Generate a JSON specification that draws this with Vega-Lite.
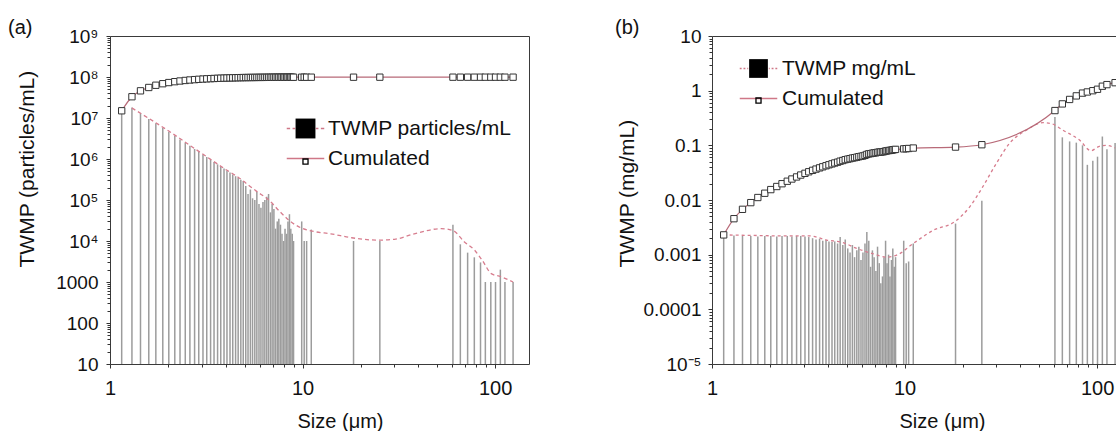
{
  "$schema": "https://vega.github.io/schema/vega-lite/v6.json",
  "padding": {"left": 7, "top": 17, "right": 0, "bottom": 0},
  "bounds": "flush",
  "spacing": 183,
  "config": {
    "font": "Liberation Sans",
    "view": {"stroke": "#3a3a3a", "strokeWidth": 1},
    "axis": {"grid": false, "domain": false, "tickColor": "#333", "labelColor": "#111", "titleColor": "#111", "labelFont": "Liberation Sans", "titleFont": "Liberation Sans", "titleFontWeight": "normal", "labelFlush": false, "labelOverlap": false}
  },
  "datasets": {
    "bins": [
      {"size": 1.15, "n": 1.5e7, "cn": 1.5e7, "m": 0.0023, "cm": 0.0023},
      {"size": 1.3, "n": 1.8e7, "cn": 3.3e7, "m": 0.00225, "cm": 0.00455},
      {"size": 1.44, "n": 1.3e7, "cn": 4.6e7, "m": 0.0022, "cm": 0.00675},
      {"size": 1.59, "n": 9.5e6, "cn": 5.55e7, "m": 0.0022, "cm": 0.00895},
      {"size": 1.73, "n": 7.4e6, "cn": 6.29e7, "m": 0.00215, "cm": 0.0111},
      {"size": 1.88, "n": 5.7e6, "cn": 6.86e7, "m": 0.0022, "cm": 0.0133},
      {"size": 2.02, "n": 4.6e6, "cn": 7.32e7, "m": 0.0022, "cm": 0.0155},
      {"size": 2.17, "n": 3.7e6, "cn": 7.69e7, "m": 0.00215, "cm": 0.01765},
      {"size": 2.31, "n": 3.0e6, "cn": 7.99e7, "m": 0.0022, "cm": 0.01985},
      {"size": 2.46, "n": 2.5e6, "cn": 8.24e7, "m": 0.0022, "cm": 0.02205},
      {"size": 2.6, "n": 2.1e6, "cn": 8.45e7, "m": 0.00215, "cm": 0.0242},
      {"size": 2.75, "n": 1.75e6, "cn": 8.63e7, "m": 0.0022, "cm": 0.0264},
      {"size": 2.89, "n": 1.5e6, "cn": 8.78e7, "m": 0.0022, "cm": 0.0286},
      {"size": 3.04, "n": 1.28e6, "cn": 8.91e7, "m": 0.00215, "cm": 0.03075},
      {"size": 3.18, "n": 1.12e6, "cn": 9.02e7, "m": 0.0021, "cm": 0.03285},
      {"size": 3.33, "n": 9.6e5, "cn": 9.12e7, "m": 0.002, "cm": 0.03485},
      {"size": 3.47, "n": 8.5e5, "cn": 9.2e7, "m": 0.0019, "cm": 0.03675},
      {"size": 3.62, "n": 7.4e5, "cn": 9.28e7, "m": 0.00195, "cm": 0.0387},
      {"size": 3.76, "n": 6.6e5, "cn": 9.34e7, "m": 0.0018, "cm": 0.0405},
      {"size": 3.91, "n": 5.9e5, "cn": 9.4e7, "m": 0.00185, "cm": 0.04235},
      {"size": 4.05, "n": 5.2e5, "cn": 9.45e7, "m": 0.00175, "cm": 0.0441},
      {"size": 4.2, "n": 4.7e5, "cn": 9.5e7, "m": 0.0017, "cm": 0.0458},
      {"size": 4.34, "n": 4.2e5, "cn": 9.54e7, "m": 0.00175, "cm": 0.04755},
      {"size": 4.49, "n": 3.8e5, "cn": 9.58e7, "m": 0.0016, "cm": 0.04915},
      {"size": 4.63, "n": 3.5e5, "cn": 9.62e7, "m": 0.0021, "cm": 0.05125},
      {"size": 4.78, "n": 3.1e5, "cn": 9.65e7, "m": 0.0015, "cm": 0.05275},
      {"size": 4.92, "n": 2.9e5, "cn": 9.68e7, "m": 0.0019, "cm": 0.05465},
      {"size": 5.07, "n": 2.2e5, "cn": 9.7e7, "m": 0.0013, "cm": 0.05595},
      {"size": 5.21, "n": 1.4e5, "cn": 9.71e7, "m": 0.0011, "cm": 0.05705},
      {"size": 5.36, "n": 1.8e5, "cn": 9.73e7, "m": 0.0015, "cm": 0.05855},
      {"size": 5.5, "n": 1.1e5, "cn": 9.74e7, "m": 0.0009, "cm": 0.05945},
      {"size": 5.65, "n": 1.0e5, "cn": 9.75e7, "m": 0.0012, "cm": 0.06065},
      {"size": 5.79, "n": 1.6e5, "cn": 9.77e7, "m": 0.0014, "cm": 0.06205},
      {"size": 5.94, "n": 8.0e4, "cn": 9.78e7, "m": 0.0008, "cm": 0.06285},
      {"size": 6.08, "n": 6.5e4, "cn": 9.78e7, "m": 0.0011, "cm": 0.06395},
      {"size": 6.23, "n": 9.0e4, "cn": 9.79e7, "m": 0.0016, "cm": 0.06555},
      {"size": 6.37, "n": 1.0e5, "cn": 9.8e7, "m": 0.0026, "cm": 0.06815},
      {"size": 6.52, "n": 1.2e5, "cn": 9.81e7, "m": 0.0018, "cm": 0.06995},
      {"size": 6.66, "n": 1.4e5, "cn": 9.83e7, "m": 0.0006, "cm": 0.07055},
      {"size": 6.81, "n": 5.0e4, "cn": 9.83e7, "m": 0.0012, "cm": 0.07175},
      {"size": 6.95, "n": 8.0e4, "cn": 9.84e7, "m": 0.0009, "cm": 0.07265},
      {"size": 7.1, "n": 6.0e4, "cn": 9.85e7, "m": 0.0005, "cm": 0.07315},
      {"size": 7.24, "n": 2.0e4, "cn": 9.85e7, "m": 0.0014, "cm": 0.07455},
      {"size": 7.39, "n": 3.0e4, "cn": 9.85e7, "m": 0.0007, "cm": 0.07525},
      {"size": 7.53, "n": 3.5e4, "cn": 9.86e7, "m": 0.0003, "cm": 0.07555},
      {"size": 7.68, "n": 2.5e4, "cn": 9.86e7, "m": 0.0004, "cm": 0.07595},
      {"size": 7.82, "n": 1.5e4, "cn": 9.86e7, "m": 0.0009, "cm": 0.07685},
      {"size": 7.97, "n": 1.0e4, "cn": 9.86e7, "m": 0.0018, "cm": 0.07865},
      {"size": 8.11, "n": 2.0e4, "cn": 9.86e7, "m": 0.0007, "cm": 0.07935},
      {"size": 8.26, "n": 1.5e4, "cn": 9.87e7, "m": 0.001, "cm": 0.08035},
      {"size": 8.4, "n": 3.0e4, "cn": 9.87e7, "m": 0.0004, "cm": 0.08075},
      {"size": 8.55, "n": 4.5e4, "cn": 9.87e7, "m": 0.0008, "cm": 0.08155},
      {"size": 8.69, "n": 2.0e4, "cn": 9.88e7, "m": 0.0013, "cm": 0.08285},
      {"size": 8.84, "n": 1.5e4, "cn": 9.88e7, "m": 0.0006, "cm": 0.08345},
      {"size": 8.98, "n": 1.0e4, "cn": 9.88e7, "m": 0.0009, "cm": 0.08435},
      {"size": 9.9, "n": 3.0e4, "cn": 9.88e7, "m": 0.0018, "cm": 0.08615},
      {"size": 10.2, "n": 1.0e4, "cn": 9.89e7, "m": 0.0007, "cm": 0.08685},
      {"size": 10.5, "n": 1.0e4, "cn": 9.89e7, "m": 0.00075, "cm": 0.0876},
      {"size": 11.1, "n": 1.9e4, "cn": 9.89e7, "m": 0.0016, "cm": 0.0892},
      {"size": 18.4, "n": 1.0e4, "cn": 9.89e7, "m": 0.0037, "cm": 0.0929},
      {"size": 25.2, "n": 1.0e4, "cn": 9.9e7, "m": 0.0097, "cm": 0.1026},
      {"size": 60.4, "n": 2.5e4, "cn": 9.9e7, "m": 0.33, "cm": 0.4326},
      {"size": 66, "n": 8300, "cn": 9.9e7, "m": 0.14, "cm": 0.5726},
      {"size": 72, "n": 5200, "cn": 9.9e7, "m": 0.118, "cm": 0.6906},
      {"size": 78, "n": 4000, "cn": 9.9e7, "m": 0.112, "cm": 0.8026},
      {"size": 84, "n": 3000, "cn": 9.9e7, "m": 0.1, "cm": 0.9026},
      {"size": 89, "n": 1000, "cn": 9.9e7, "m": 0.044, "cm": 0.9466},
      {"size": 95, "n": 1000, "cn": 9.9e7, "m": 0.052, "cm": 0.9986},
      {"size": 100.5, "n": 1000, "cn": 9.9e7, "m": 0.062, "cm": 1.0606},
      {"size": 106.5, "n": 2000, "cn": 9.9e7, "m": 0.145, "cm": 1.2056},
      {"size": 112.5, "n": 1000, "cn": 9.9e7, "m": 0.085, "cm": 1.2906},
      {"size": 124, "n": 1000, "cn": 9.9e7, "m": 0.11, "cm": 1.4006}
    ],
    "curveA": [
      {"size": 1.3, "v": 1.75e7}, {"size": 1.59, "v": 9.8e6}, {"size": 2.02, "v": 4.8e6},
      {"size": 2.6, "v": 2.15e6}, {"size": 3.33, "v": 9.8e5}, {"size": 4.05, "v": 5.3e5},
      {"size": 4.63, "v": 3.6e5}, {"size": 5.07, "v": 2.6e5}, {"size": 5.8, "v": 1.6e5},
      {"size": 6.68, "v": 1.0e5}, {"size": 7.6, "v": 5.3e4}, {"size": 8.5, "v": 3.2e4},
      {"size": 9.8, "v": 2.1e4}, {"size": 11.5, "v": 1.7e4}, {"size": 14, "v": 1.5e4},
      {"size": 18, "v": 1.2e4}, {"size": 24.6, "v": 1.05e4}, {"size": 30, "v": 1.1e4},
      {"size": 38, "v": 1.5e4}, {"size": 52.5, "v": 2.0e4}, {"size": 60.4, "v": 1.8e4},
      {"size": 69.3, "v": 9500}, {"size": 78.2, "v": 6000}, {"size": 86.4, "v": 3200},
      {"size": 95.5, "v": 1600}, {"size": 107, "v": 1350}, {"size": 124, "v": 1000}
    ],
    "curveB": [
      {"size": 1.15, "v": 0.0023}, {"size": 1.6, "v": 0.00225}, {"size": 2.5, "v": 0.0022},
      {"size": 3.23, "v": 0.0022}, {"size": 3.94, "v": 0.00185}, {"size": 4.8, "v": 0.00166},
      {"size": 5.64, "v": 0.0013}, {"size": 6.74, "v": 0.00106}, {"size": 8.07, "v": 0.0009},
      {"size": 9.1, "v": 0.00098}, {"size": 11.1, "v": 0.0016}, {"size": 14.1, "v": 0.0028},
      {"size": 18.2, "v": 0.004}, {"size": 21.8, "v": 0.0075}, {"size": 25.5, "v": 0.0175},
      {"size": 30, "v": 0.047}, {"size": 35.2, "v": 0.11}, {"size": 42.9, "v": 0.19},
      {"size": 52.3, "v": 0.26}, {"size": 57.8, "v": 0.25}, {"size": 66.3, "v": 0.19},
      {"size": 81, "v": 0.125}, {"size": 93, "v": 0.08}, {"size": 102, "v": 0.095},
      {"size": 111, "v": 0.1}, {"size": 124, "v": 0.09}
    ]
  },
  "resolve": {"scale": {"shape": "independent"}, "legend": {"shape": "independent"}},
  "hconcat": [
    {
      "width": 419,
      "height": 328,
      "title": {"text": "(a)", "anchor": "start", "frame": "group", "dx": -102, "offset": -27, "baseline": "alphabetic", "fontSize": 20, "fontWeight": "normal", "font": "Liberation Sans", "color": "#111"},
      "resolve": {"axis": {"x": "independent", "y": "independent"}, "scale": {"shape": "independent"}},
      "layer": [
        {
          "data": {"name": "bins"},
          "mark": {"type": "rule", "color": "#9c9c9c", "strokeWidth": 1.5},
          "encoding": {
            "x": {"field": "size", "type": "quantitative", "scale": {"type": "log", "domain": [1, 150]},
              "axis": {"orient": "bottom", "values": [1, 10, 100], "format": "d", "title": "Size (μm)", "titleFontSize": 20, "titleX": 230, "titleY": 63, "titleAlign": "center", "titleBaseline": "alphabetic", "labelFontSize": 20, "labelPadding": 10, "tickSize": 4}},
            "y": {"field": "n", "type": "quantitative", "scale": {"type": "log", "domain": [10, 1000000000]},
              "axis": {"orient": "left", "values": [10, 100, 1000, 10000, 100000, 1000000, 10000000, 100000000, 1000000000], "labelExpr": "datum.value >= 10000 ? '10' + ['⁴','⁵','⁶','⁷','⁸','⁹'][round(log(datum.value)/LN10) - 4] : format(datum.value, 'd')", "title": "TWMP (particles/mL)", "titleFontSize": 21, "titleX": -77, "titleY": 231, "titleAlign": "left", "titleBaseline": "alphabetic", "titleAngle": -90, "labelFontSize": 19, "labelPadding": 8, "tickSize": 4}},
            "y2": {"datum": 10}
          }
        },
        {
          "data": {"name": "curveA"},
          "mark": {"type": "line", "color": "#d77d8e", "strokeWidth": 1.3, "strokeDash": [4, 3], "interpolate": "monotone"},
          "encoding": {
            "x": {"field": "size", "type": "quantitative", "scale": {"type": "log", "domain": [1, 150]}, "axis": null},
            "y": {"field": "v", "type": "quantitative", "scale": {"type": "log", "domain": [10, 1000000000]}, "axis": null}
          }
        },
        {
          "data": {"name": "bins"},
          "mark": {"type": "line", "color": "#b86a78", "strokeWidth": 1.2, "interpolate": "monotone"},
          "encoding": {
            "x": {"field": "size", "type": "quantitative", "scale": {"type": "log", "domain": [1, 150]},
              "axis": {"orient": "bottom", "values": [2, 3, 4, 5, 6, 7, 8, 9, 20, 30, 40, 50, 60, 70, 80, 90], "labels": false, "title": null, "tickSize": 3}},
            "y": {"field": "cn", "type": "quantitative", "scale": {"type": "log", "domain": [10, 1000000000]},
              "axis": {"orient": "left", "values": [20, 30, 40, 50, 60, 70, 80, 90, 200, 300, 400, 500, 600, 700, 800, 900, 2000, 3000, 4000, 5000, 6000, 7000, 8000, 9000, 20000, 30000, 40000, 50000, 60000, 70000, 80000, 90000, 200000, 300000, 400000, 500000, 600000, 700000, 800000, 900000, 2000000, 3000000, 4000000, 5000000, 6000000, 7000000, 8000000, 9000000, 20000000, 30000000, 40000000, 50000000, 60000000, 70000000, 80000000, 90000000, 200000000, 300000000, 400000000, 500000000, 600000000, 700000000, 800000000, 900000000], "labels": false, "title": null, "tickSize": 3}}
          }
        },
        {
          "data": {"name": "bins"},
          "mark": {"type": "point", "shape": "square", "size": 40, "filled": false, "fill": "white", "stroke": "#333", "strokeWidth": 1, "opacity": 1},
          "encoding": {
            "x": {"field": "size", "type": "quantitative", "scale": {"type": "log", "domain": [1, 150]}, "axis": null},
            "y": {"field": "cn", "type": "quantitative", "scale": {"type": "log", "domain": [10, 1000000000]}, "axis": null}
          }
        },
        {
          "data": {"values": []},
          "mark": {"type": "point", "filled": false, "color": "#cf7787", "strokeWidth": 1.3, "opacity": 1},
          "encoding": {
            "x": {"field": "size", "type": "quantitative", "scale": {"type": "log", "domain": [1, 150]}, "axis": null},
            "y": {"field": "n", "type": "quantitative", "scale": {"type": "log", "domain": [10, 1000000000]}, "axis": null},
            "shape": {"field": "series", "type": "nominal",
              "scale": {"domain": ["TWMP particles/mL", "Cumulated"], "range": ["M-1,0L-0.82,0M-0.69,0L-0.55,0M0.55,0L0.69,0M0.82,0L1,0", "M-1,0L1,0"]},
              "legend": {"orient": "none", "legendX": 176, "legendY": 73, "direction": "vertical", "title": null, "symbolSize": 1406, "symbolStrokeWidth": 1.3, "symbolFillColor": "transparent", "labelFontSize": 21, "labelFont": "Liberation Sans", "labelColor": "#111", "labelOffset": 3, "labelLimit": 400, "rowPadding": -2, "padding": 0}}
          }
        },
        {
          "data": {"values": []},
          "mark": {"type": "point", "filled": true, "color": "#000000", "strokeWidth": 0, "opacity": 1},
          "encoding": {
            "x": {"field": "size", "type": "quantitative", "scale": {"type": "log", "domain": [1, 150]}, "axis": null},
            "y": {"field": "n", "type": "quantitative", "scale": {"type": "log", "domain": [10, 1000000000]}, "axis": null},
            "shape": {"field": "series", "type": "nominal",
              "scale": {"domain": ["TWMP particles/mL", "Cumulated"], "range": ["M-0.53,-0.53L0.53,-0.53L0.53,0.53L-0.53,0.53Z", "M-0.17,-0.17L0.17,-0.17L0.17,0.17L-0.17,0.17ZM-0.1,-0.1L-0.1,0.1L0.1,0.1L0.1,-0.1Z"]},
              "legend": {"orient": "none", "legendX": 176, "legendY": 73, "direction": "vertical", "title": null, "symbolSize": 1406, "symbolStrokeWidth": 1.3, "symbolStrokeColor": "transparent", "labelFontSize": 21, "labelFont": "Liberation Sans", "labelColor": "transparent", "labelExpr": "' '", "labelOffset": 3, "labelLimit": 400, "rowPadding": -2, "padding": 0}}
          }
        }
      ]
    },
    {
      "width": 419,
      "height": 328,
      "title": {"text": "(b)", "anchor": "start", "frame": "group", "dx": -97, "offset": -27, "baseline": "alphabetic", "fontSize": 20, "fontWeight": "normal", "font": "Liberation Sans", "color": "#111"},
      "resolve": {"axis": {"x": "independent", "y": "independent"}, "scale": {"shape": "independent"}},
      "layer": [
        {
          "data": {"name": "bins"},
          "mark": {"type": "rule", "color": "#9c9c9c", "strokeWidth": 1.5},
          "encoding": {
            "x": {"field": "size", "type": "quantitative", "scale": {"type": "log", "domain": [1, 150]},
              "axis": {"orient": "bottom", "values": [1, 10, 100], "format": "d", "title": "Size (μm)", "titleFontSize": 20, "titleX": 230, "titleY": 63, "titleAlign": "center", "titleBaseline": "alphabetic", "labelFontSize": 20, "labelPadding": 10, "tickSize": 4}},
            "y": {"field": "m", "type": "quantitative", "scale": {"type": "log", "domain": [0.00001, 10]},
              "axis": {"orient": "left", "values": [0.00001, 0.0001, 0.001, 0.01, 0.1, 1, 10], "labelExpr": "datum.value < 0.00005 ? '10⁻⁵' : format(datum.value, '~g')", "title": "TWMP (mg/mL)", "titleFontSize": 21, "titleX": -79, "titleY": 231, "titleAlign": "left", "titleBaseline": "alphabetic", "titleAngle": -90, "labelFontSize": 19, "labelPadding": 7, "tickSize": 4}},
            "y2": {"datum": 0.00001}
          }
        },
        {
          "data": {"name": "curveB"},
          "mark": {"type": "line", "color": "#d77d8e", "strokeWidth": 1.3, "strokeDash": [3, 3], "interpolate": "monotone"},
          "encoding": {
            "x": {"field": "size", "type": "quantitative", "scale": {"type": "log", "domain": [1, 150]}, "axis": null},
            "y": {"field": "v", "type": "quantitative", "scale": {"type": "log", "domain": [0.00001, 10]}, "axis": null}
          }
        },
        {
          "data": {"name": "bins"},
          "mark": {"type": "line", "color": "#b86a78", "strokeWidth": 1.2, "interpolate": "monotone"},
          "encoding": {
            "x": {"field": "size", "type": "quantitative", "scale": {"type": "log", "domain": [1, 150]},
              "axis": {"orient": "bottom", "values": [2, 3, 4, 5, 6, 7, 8, 9, 20, 30, 40, 50, 60, 70, 80, 90], "labels": false, "title": null, "tickSize": 3}},
            "y": {"field": "cm", "type": "quantitative", "scale": {"type": "log", "domain": [0.00001, 10]},
              "axis": {"orient": "left", "values": [0.00002, 0.00003, 0.00004, 0.00005, 0.00006, 0.00007, 0.00008, 0.00009, 0.0002, 0.0003, 0.0004, 0.0005, 0.0006, 0.0007, 0.0008, 0.0009, 0.002, 0.003, 0.004, 0.005, 0.006, 0.007, 0.008, 0.009, 0.02, 0.03, 0.04, 0.05, 0.06, 0.07, 0.08, 0.09, 0.2, 0.3, 0.4, 0.5, 0.6, 0.7, 0.8, 0.9, 2, 3, 4, 5, 6, 7, 8, 9], "labels": false, "title": null, "tickSize": 3}}
          }
        },
        {
          "data": {"name": "bins"},
          "mark": {"type": "point", "shape": "square", "size": 40, "filled": false, "fill": "white", "stroke": "#333", "strokeWidth": 1, "opacity": 1},
          "encoding": {
            "x": {"field": "size", "type": "quantitative", "scale": {"type": "log", "domain": [1, 150]}, "axis": null},
            "y": {"field": "cm", "type": "quantitative", "scale": {"type": "log", "domain": [0.00001, 10]}, "axis": null}
          }
        },
        {
          "data": {"values": []},
          "mark": {"type": "point", "filled": false, "color": "#cf7787", "strokeWidth": 1.3, "opacity": 1},
          "encoding": {
            "x": {"field": "size", "type": "quantitative", "scale": {"type": "log", "domain": [1, 150]}, "axis": null},
            "y": {"field": "m", "type": "quantitative", "scale": {"type": "log", "domain": [0.00001, 10]}, "axis": null},
            "shape": {"field": "series", "type": "nominal",
              "scale": {"domain": ["TWMP mg/mL", "Cumulated"], "range": ["M-1,0L-0.9,0M-0.8,0L-0.7,0M-0.6,0L-0.55,0M0.55,0L0.6,0M0.7,0L0.8,0M0.9,0L1,0", "M-1,0L1,0"]},
              "legend": {"orient": "none", "legendX": 27, "legendY": 13, "direction": "vertical", "title": null, "symbolSize": 1406, "symbolStrokeWidth": 1.3, "symbolFillColor": "transparent", "labelFontSize": 21, "labelFont": "Liberation Sans", "labelColor": "#111", "labelOffset": 4, "labelLimit": 400, "rowPadding": -2, "padding": 0}}
          }
        },
        {
          "data": {"values": []},
          "mark": {"type": "point", "filled": true, "color": "#000000", "strokeWidth": 0, "opacity": 1},
          "encoding": {
            "x": {"field": "size", "type": "quantitative", "scale": {"type": "log", "domain": [1, 150]}, "axis": null},
            "y": {"field": "m", "type": "quantitative", "scale": {"type": "log", "domain": [0.00001, 10]}, "axis": null},
            "shape": {"field": "series", "type": "nominal",
              "scale": {"domain": ["TWMP mg/mL", "Cumulated"], "range": ["M-0.5,-0.5L0.5,-0.5L0.5,0.5L-0.5,0.5Z", "M-0.17,-0.17L0.17,-0.17L0.17,0.17L-0.17,0.17ZM-0.1,-0.1L-0.1,0.1L0.1,0.1L0.1,-0.1Z"]},
              "legend": {"orient": "none", "legendX": 27, "legendY": 13, "direction": "vertical", "title": null, "symbolSize": 1406, "symbolStrokeWidth": 1.3, "symbolStrokeColor": "transparent", "labelFontSize": 21, "labelFont": "Liberation Sans", "labelColor": "transparent", "labelExpr": "' '", "labelOffset": 4, "labelLimit": 400, "rowPadding": -2, "padding": 0}}
          }
        }
      ]
    }
  ]
}
